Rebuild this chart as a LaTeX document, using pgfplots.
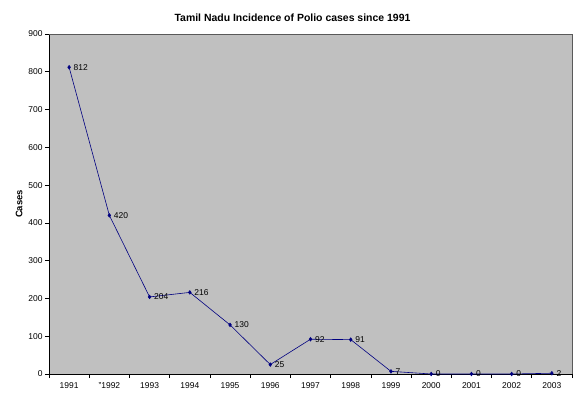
\documentclass[border=0pt]{standalone}
\usepackage{fontspec}
\setmainfont{Liberation Sans}
\usepackage{pgfplots}
\pgfplotsset{compat=1.18}
\definecolor{plotbg}{RGB}{192,192,192}
\definecolor{navyline}{RGB}{0,0,128}
\begin{document}
\begin{tikzpicture}[x=1bp,y=1bp]
\path[use as bounding box] (-49bp,-21bp) rectangle (528bp,374bp);
\begin{axis}[
  at={(0,0)}, anchor=south west,
  scale only axis, width=523bp, height=340bp,
  xmin=-0.5, xmax=12.5, ymin=0, ymax=900,
  axis background/.style={fill=plotbg},
  axis x line*=bottom, axis y line*=left,
  axis line style={black, line width=0.8pt},
  xtick={0,...,12},
  xticklabels={1991,''1992,1993,1994,1995,1996,1997,1998,1999,2000,2001,2002,2003},
  minor xtick={-0.5,0.5,...,12.5},
  major x tick style={draw=none},
  minor tick length=4bp, major tick length=4bp,
  tick align=outside,
  ytick={0,100,...,900},
  tick style={black, line width=0.6pt},
  ticklabel style={font=\fontsize{8.5}{10}\selectfont},
  /pgf/number format/assume math mode=true,
  xticklabel style={yshift=-1bp},
  yticklabel style={xshift=1bp},
  title={\bfseries Tamil Nadu Incidence of Polio cases since 1991},
  title style={font=\fontsize{10.5}{12}\selectfont\bfseries, yshift=3bp, xshift=-18bp},
  ylabel={\bfseries Cases},
  ylabel style={font=\fontsize{9.5}{11}\selectfont, yshift=-1bp},
  clip=false,
]
\draw[gray!70!black, line width=0.6pt] (rel axis cs:0,1) -- (rel axis cs:1,1) -- (rel axis cs:1,0);
\addplot[navyline, line width=0.6pt, mark=diamond*, mark size=1.8pt, mark options={fill=navyline},
  nodes near coords, point meta=explicit symbolic,
  every node near coord/.style={anchor=west, font=\fontsize{8.5}{10}\selectfont, black, xshift=1bp}]
  table[meta=lab] {
x y lab
0 812 812
1 420 420
2 204 204
3 216 216
4 130 130
5 25 25
6 92 92
7 91 91
8 7 7
9 0 0
10 0 0
11 0 0
12 2 2
};
\end{axis}
\end{tikzpicture}
\end{document}
